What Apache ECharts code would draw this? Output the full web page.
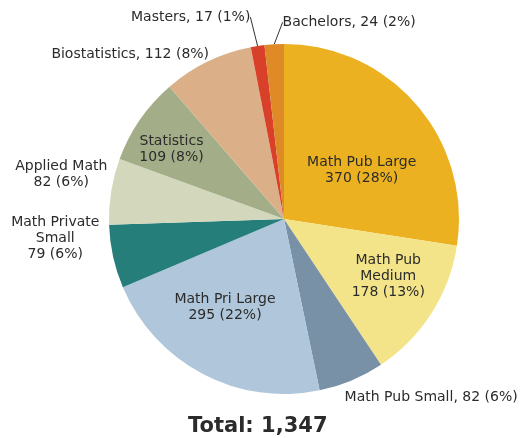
<!DOCTYPE html>
<html>
<head>
<meta charset="utf-8">
<script src="https://cdn.jsdelivr.net/npm/echarts@6/dist/echarts.min.js"></script>
<style>
  html, body { margin: 0; padding: 0; background: #fff; }
  #chart { width: 531px; height: 438px; }
</style>
</head>
<body>
<div id="chart"></div>
<script>
// 数据
const categories = ['Math Pub Large', 'Math Pub Medium', 'Math Pub Small', 'Math Pri Large', 'Math Private Small',
    'Applied Math', 'Statistics', 'Biostatistics', 'Masters', 'Bachelors'];
const values = [370, 178, 82, 295, 79, 82, 109, 112, 17, 24];
const totalText = 'Total: 1,347';

// 样式
const colors = ['#ebb120', '#f3e48a', '#7891a6', '#b0c6da', '#267e7a', '#d3d8bd', '#a3ae88', '#dbb089', '#d9402a', '#de8a26'];
const insideNames = ['Math Pub Large', 'Math Pub Medium', 'Math Pri Large', 'Statistics'];
const oneLineNames = ['Math Pub Small', 'Biostatistics', 'Masters', 'Bachelors'];
const lineNames = ['Masters', 'Bachelors'];
const wrapNames = { 'Math Pub Medium': 'Math Pub\nMedium', 'Math Private Small': 'Math Private\nSmall' };
// 标签微调（相对默认位置的偏移）
const labelNudge = {
    'Math Pub Large': { dx: 9, dy: 10 },
    'Math Pub Medium': { dx: 28, dy: 9 },
    'Math Pri Large': { dx: -17, dy: 8 },
    'Statistics': { dx: -38, dy: -18 },
    'Math Pub Small': { dx: -15, dy: 10 },
    'Applied Math': { dx: -37, dy: -16, align: 'center' },
    'Math Private Small': { dx: -45, dy: -20, align: 'center' },
    'Biostatistics': { dx: 10, dy: 0 },
    'Masters': { dx: -1, dy: -21 },
    'Bachelors': { dx: 147, dy: -14 }
};

(function () {
    const my_echart = echarts.init(document.getElementById('chart'));
    const pieData = categories.map(function (name, i) {
        const inside = insideNames.indexOf(name) >= 0;
        return {
            name: name,
            value: values[i],
            label: { position: inside ? 'inside' : 'outside' },
            labelLine: { show: lineNames.indexOf(name) >= 0 }
        };
    });
    const option = {
        color: colors,
        animation: false,
        title: {
            text: totalText,
            left: 183,
            top: 411,
            textStyle: { fontFamily: 'DejaVu Sans', fontSize: 21, fontWeight: 'bold', color: '#2b2b2b' }
        },
        series: [{
            type: 'pie',
            center: [284, 219],
            radius: 175,
            startAngle: 90,
            clockwise: true,
            percentPrecision: 0,
            avoidLabelOverlap: false,
            data: pieData,
            itemStyle: { borderWidth: 0 },
            label: {
                fontFamily: 'DejaVu Sans',
                fontSize: 14,
                color: '#2b2b2b',
                lineHeight: 16,
                overflow: 'none',
                formatter: function (p) {
                    const n = wrapNames[p.name] || p.name;
                    return oneLineNames.indexOf(p.name) >= 0
                        ? n + ', ' + p.value + ' (' + p.percent + '%)'
                        : n + '\n' + p.value + ' (' + p.percent + '%)';
                }
            },
            labelLine: { length: 8, length2: 0, lineStyle: { color: '#333', width: 1 } },
            labelLayout: function (params) {
                const name = categories[params.dataIndex];
                const n = labelNudge[name];
                if (!n) return {};
                if (lineNames.indexOf(name) >= 0) {
                    // 带引线的标签：用绝对位置，让引线重新计算
                    const r = params.labelRect;
                    return { x: r.x + n.dx, y: r.y + n.dy, align: 'left', verticalAlign: 'top' };
                }
                return n;
            },
            emphasis: { disabled: true }
        }]
    };
    my_echart.setOption(option);
})();
</script>
</body>
</html>
